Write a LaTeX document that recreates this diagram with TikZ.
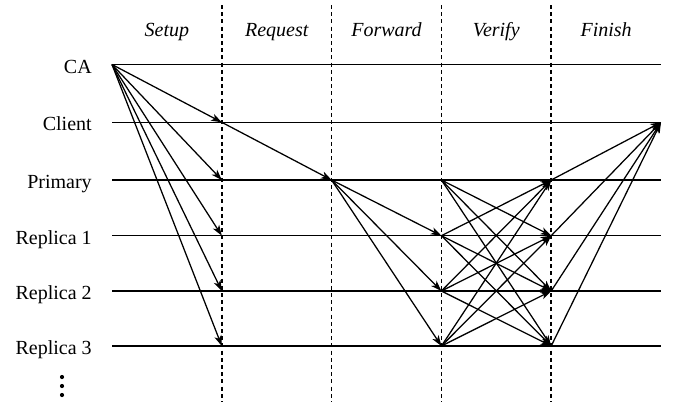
\documentclass[tikz,border=0pt]{standalone}
\usepackage{fontspec}
\setmainfont{Liberation Serif}
\usetikzlibrary{arrows.meta,positioning}

\begin{document}
\begin{tikzpicture}[x=0.75pt, y=-0.75pt,
  every node/.style={font=\fontsize{15}{18}\selectfont, inner sep=0pt},
  lane/.style={line width=1.1pt},
  guide/.style={line width=1.1pt, dash pattern=on 3pt off 2.4pt},
  msg/.style={line width=0.95pt, -{Stealth[length=8pt, width=5.5pt, inset=2.2pt]}},
  who/.style={anchor=base east},
  phase/.style={anchor=base, font=\fontsize{15}{18}\selectfont\itshape}]

  \useasboundingbox (0,0) rectangle (677,411);

  \newcommand\X{109.8}

  % grid points: lane - column
  \foreach \n/\y in {CA/64.5, Client/122.3, Primary/180, R1/235.7, R2/291, R3/346}
    \foreach \c in {0,...,5}
      \coordinate (\n-\c) at (112+\c*\X, \y);

  % phase borders
  \foreach \c in {1,...,4}
    \draw[guide] (112+\c*\X, 5) -- (112+\c*\X, 402);

  % phase names
  \node[phase] (setup)   at (112+0.5*\X, 36) {Setup};
  \node[phase] (request) at (112+1.5*\X, 36) {Request};
  \node[phase] (forward) at (112+2.5*\X, 36) {Forward};
  \node[phase] (verify)  at (112+3.5*\X, 36) {Verify};
  \node[phase] (finish)  at (112+4.5*\X, 36) {Finish};

  % lanes
  \node[who] (lCA)      at ([xshift=-15pt, yshift=-6.4pt]CA-0) {CA};
  \node[who] (lClient)  at ([xshift=-15pt, yshift=-6.4pt]Client-0) {Client};
  \node[who] (lPrimary) at ([xshift=-15pt, yshift=-6.4pt]Primary-0) {Primary};
  \node[who] (lR1)      at ([xshift=-15pt, yshift=-6.4pt]R1-0) {Replica 1};
  \node[who] (lR2)      at ([xshift=-15pt, yshift=-6.4pt]R2-0) {Replica 2};
  \node[who] (lR3)      at ([xshift=-15pt, yshift=-6.4pt]R3-0) {Replica 3};
  % more replicas
  \fill (62, 377) circle (2.1) (62, 386) circle (2.1) (62, 395) circle (2.1);

  \draw[lane] (CA-0) -- (CA-5);
  \draw[lane] (Client-0) -- (Client-5);
  \draw[lane] (Primary-0) -- (Primary-5);
  \draw[lane] (R1-0) -- (R1-5);
  \draw[lane] (R2-0) -- (R2-5);
  \draw[lane] (R3-0) -- (R3-5);

  % setup
  \draw[msg] (CA-0) -- (Client-1);
  \draw[msg] (CA-0) -- (Primary-1);
  \draw[msg] (CA-0) -- (R1-1);
  \draw[msg] (CA-0) -- (R2-1);
  \draw[msg] (CA-0) -- (R3-1);

  % request
  \draw[msg] (Client-1) -- (Primary-2);

  % forward
  \draw[msg] (Primary-2) -- (R1-3);
  \draw[msg] (Primary-2) -- (R2-3);
  \draw[msg] (Primary-2) -- (R3-3);

  % verify
  \draw[msg] (Primary-3) -- (R1-4);
  \draw[msg] (Primary-3) -- (R2-4);
  \draw[msg] (Primary-3) -- (R3-4);
  \draw[msg] (R1-3) -- (Primary-4);
  \draw[msg] (R1-3) -- (R2-4);
  \draw[msg] (R1-3) -- (R3-4);
  \draw[msg] (R2-3) -- (Primary-4);
  \draw[msg] (R2-3) -- (R1-4);
  \draw[msg] (R2-3) -- (R3-4);
  \draw[msg] (R3-3) -- (Primary-4);
  \draw[msg] (R3-3) -- (R1-4);
  \draw[msg] (R3-3) -- (R2-4);

  % finish
  \draw[msg] (Primary-4) -- (Client-5);
  \draw[msg] (R1-4) -- (Client-5);
  \draw[msg] (R2-4) -- (Client-5);
  \draw[msg] (R3-4) -- (Client-5);

\end{tikzpicture}
\end{document}
